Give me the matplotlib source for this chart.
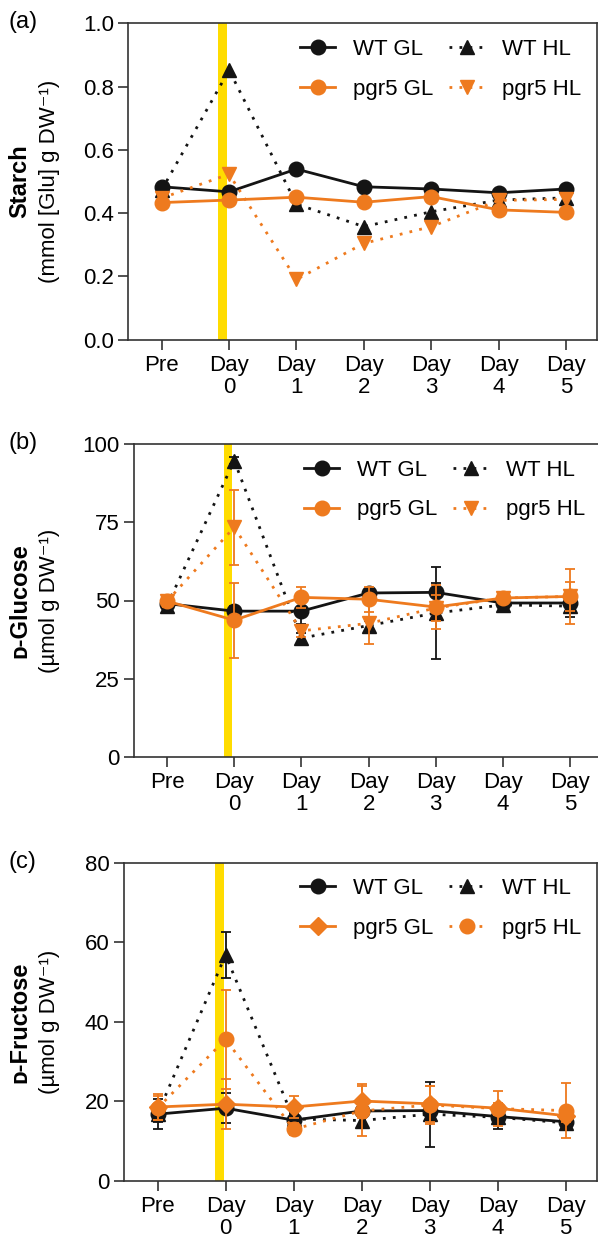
import numpy as np
import matplotlib
matplotlib.use('Agg')
from matplotlib import pyplot as plt

plt.rcParams['font.family'] = ['Liberation Sans', 'DejaVu Sans']

days = ['Pre', 'Day\n0', 'Day\n1', 'Day\n2', 'Day\n3', 'Day\n4', 'Day\n5']
x = np.arange(len(days))

# (a) starch, mmol [Glu] g DW-1
starch_wt_gl = [0.483, 0.467, 0.539, 0.483, 0.476, 0.464, 0.476]
starch_wt_hl = [0.473, 0.852, 0.428, 0.357, 0.404, 0.441, 0.448]
starch_pg_gl = [0.433, 0.441, 0.450, 0.434, 0.452, 0.410, 0.402]
starch_pg_hl = [0.447, 0.523, 0.190, 0.304, 0.357, 0.440, 0.443]

# (b) D-glucose, umol g DW-1
glc_wt_gl = [49.0, 46.6, 46.6, 52.4, 52.6, 49.2, 49.2]
glc_wt_gl_err = [1.5, 1.5, 4.0, 1.5, 3.0, 1.5, 1.5]
glc_wt_hl = [48.4, 94.7, 38.0, 42.0, 46.0, 48.6, 48.2]
glc_wt_hl_err = [1.5, 1.0, 1.5, 1.5, 14.8, 1.5, 3.5]
glc_pg_gl = [49.8, 43.7, 51.0, 50.4, 47.9, 50.8, 51.3]
glc_pg_gl_err = [2.0, 12.0, 3.3, 4.0, 7.0, 1.5, 4.5]
glc_pg_hl = [49.8, 73.4, 40.3, 42.7, 47.6, 50.8, 51.3]
glc_pg_hl_err = [2.0, 12.0, 2.0, 6.7, 4.0, 1.5, 8.7]

# (c) D-fructose, umol g DW-1
fru_wt_gl = [16.8, 18.3, 15.3, 17.6, 17.7, 16.2, 14.9]
fru_wt_gl_err = [3.8, 3.8, 1.5, 1.5, 1.5, 1.5, 1.5]
fru_wt_hl = [16.8, 56.8, 15.6, 15.2, 16.8, 16.0, 14.6]
fru_wt_hl_err = [2.0, 5.7, 1.5, 1.5, 8.2, 3.0, 1.5]
fru_pg_gl = [18.6, 19.3, 18.6, 20.1, 19.4, 18.3, 16.4]
fru_pg_gl_err = [3.2, 6.3, 2.7, 4.2, 4.5, 4.4, 1.5]
fru_pg_hl = [18.3, 35.6, 13.0, 17.6, 19.1, 18.2, 17.7]
fru_pg_hl_err = [3.0, 12.4, 1.5, 6.3, 4.8, 1.5, 7.0]

BLACK = '#141414'
ORANGE = '#EE7A1E'
YELLOW = '#FFDC00'
W, H = 598, 1241

fig = plt.figure(figsize=(W / 100, H / 100), dpi=100)

def make_ax(left, right, top, bottom):
    return fig.add_axes([left / W, 1 - bottom / H, (right - left) / W, (bottom - top) / H])

def style(ax, ylim, yticks, ytl):
    ax.axvspan(0.84, 0.97, color=YELLOW, lw=0, zorder=0)
    ax.set_xlim(-0.5, 6.46)
    ax.set_ylim(*ylim)
    ax.set_yticks(yticks)
    ax.set_yticklabels(ytl)
    ax.set_xticks(x)
    ax.set_xticklabels(days, linespacing=1.05, va='top')
    ax.tick_params(length=7, width=1.2, labelsize=16, color='#333333')
    ax.tick_params(axis='y', pad=3)
    ax.tick_params(axis='x', pad=4)
    for s in ax.spines.values():
        s.set_linewidth(1.2)
        s.set_color('#333333')

dot = (0, (1, 2.6))
ms = 10.5

def draw(ax, series, errs, markers):
    styles = [(BLACK, '-'), (BLACK, dot), (ORANGE, '-'), (ORANGE, dot)]
    labels = ['WT GL', 'WT HL', 'pgr5 GL', 'pgr5 HL']
    handles = []
    for i, ys in enumerate(series):
        c, ls = styles[i]
        if errs is not None:
            ax.errorbar(x, ys, yerr=errs[i], fmt='none', ecolor=c, elinewidth=1.3,
                        capsize=3.5, capthick=1.3, zorder=2 + i)
        m_s = ms - 1.5 if markers[i] == 'D' else ms
        h, = ax.plot(x, ys, color=c, ls=ls, lw=2.0, marker=markers[i], ms=m_s,
                     mfc=c, mec=c, label=labels[i], zorder=3 + i)
        handles.append(h)
    order = [handles[0], handles[2], handles[1], handles[3]]
    ax.legend(order, [h.get_label() for h in order], ncol=2, loc='upper right',
              bbox_to_anchor=(1.0, 1.0), frameon=False, fontsize=16,
              handlelength=1.6, handletextpad=0.8, columnspacing=0.7,
              labelspacing=0.85, borderaxespad=0.3)

ax1 = make_ax(128, 597, 23.3, 339.5)
style(ax1, (0, 1.0), [0, 0.2, 0.4, 0.6, 0.8, 1.0], ['0.0', '0.2', '0.4', '0.6', '0.8', '1.0'])
draw(ax1, [starch_wt_gl, starch_wt_hl, starch_pg_gl, starch_pg_hl], None, ['o', '^', 'o', 'v'])

ax2 = make_ax(133.5, 601, 444, 757)
style(ax2, (0, 100), [0, 25, 50, 75, 100], ['0', '25', '50', '75', '100'])
draw(ax2, [glc_wt_gl, glc_wt_hl, glc_pg_gl, glc_pg_hl],
     [glc_wt_gl_err, glc_wt_hl_err, glc_pg_gl_err, glc_pg_hl_err], ['o', '^', 'o', 'v'])

ax3 = make_ax(123.5, 597, 862.7, 1181)
style(ax3, (0, 80), [0, 20, 40, 60, 80], ['0', '20', '40', '60', '80'])
draw(ax3, [fru_wt_gl, fru_wt_hl, fru_pg_gl, fru_pg_hl],
     [fru_wt_gl_err, fru_wt_hl_err, fru_pg_gl_err, fru_pg_hl_err], ['o', '^', 'D', 'o'])

panels = [('(a)', 'Starch', '(mmol [Glu] g DW\u207b\u00b9)', 23.3, 339.5),
          ('(b)', '\u1d05-Glucose', '(\u00b5mol g DW\u207b\u00b9)', 444, 757),
          ('(c)', '\u1d05-Fructose', '(\u00b5mol g DW\u207b\u00b9)', 862.7, 1181)]
for lab, name, unit, top, bot in panels:
    fig.text(9 / W, 1 - (top - 1) / H, lab, fontsize=17, ha='left', va='center')
    mid = 1 - (top + bot) / 2 / H
    fig.text(20 / W, mid, name, fontsize=17, fontweight='bold', rotation=90,
             ha='center', va='center')
    fig.text(50 / W, mid, unit, fontsize=16, rotation=90, ha='center', va='center')

fig.savefig('out.png', dpi=100)
